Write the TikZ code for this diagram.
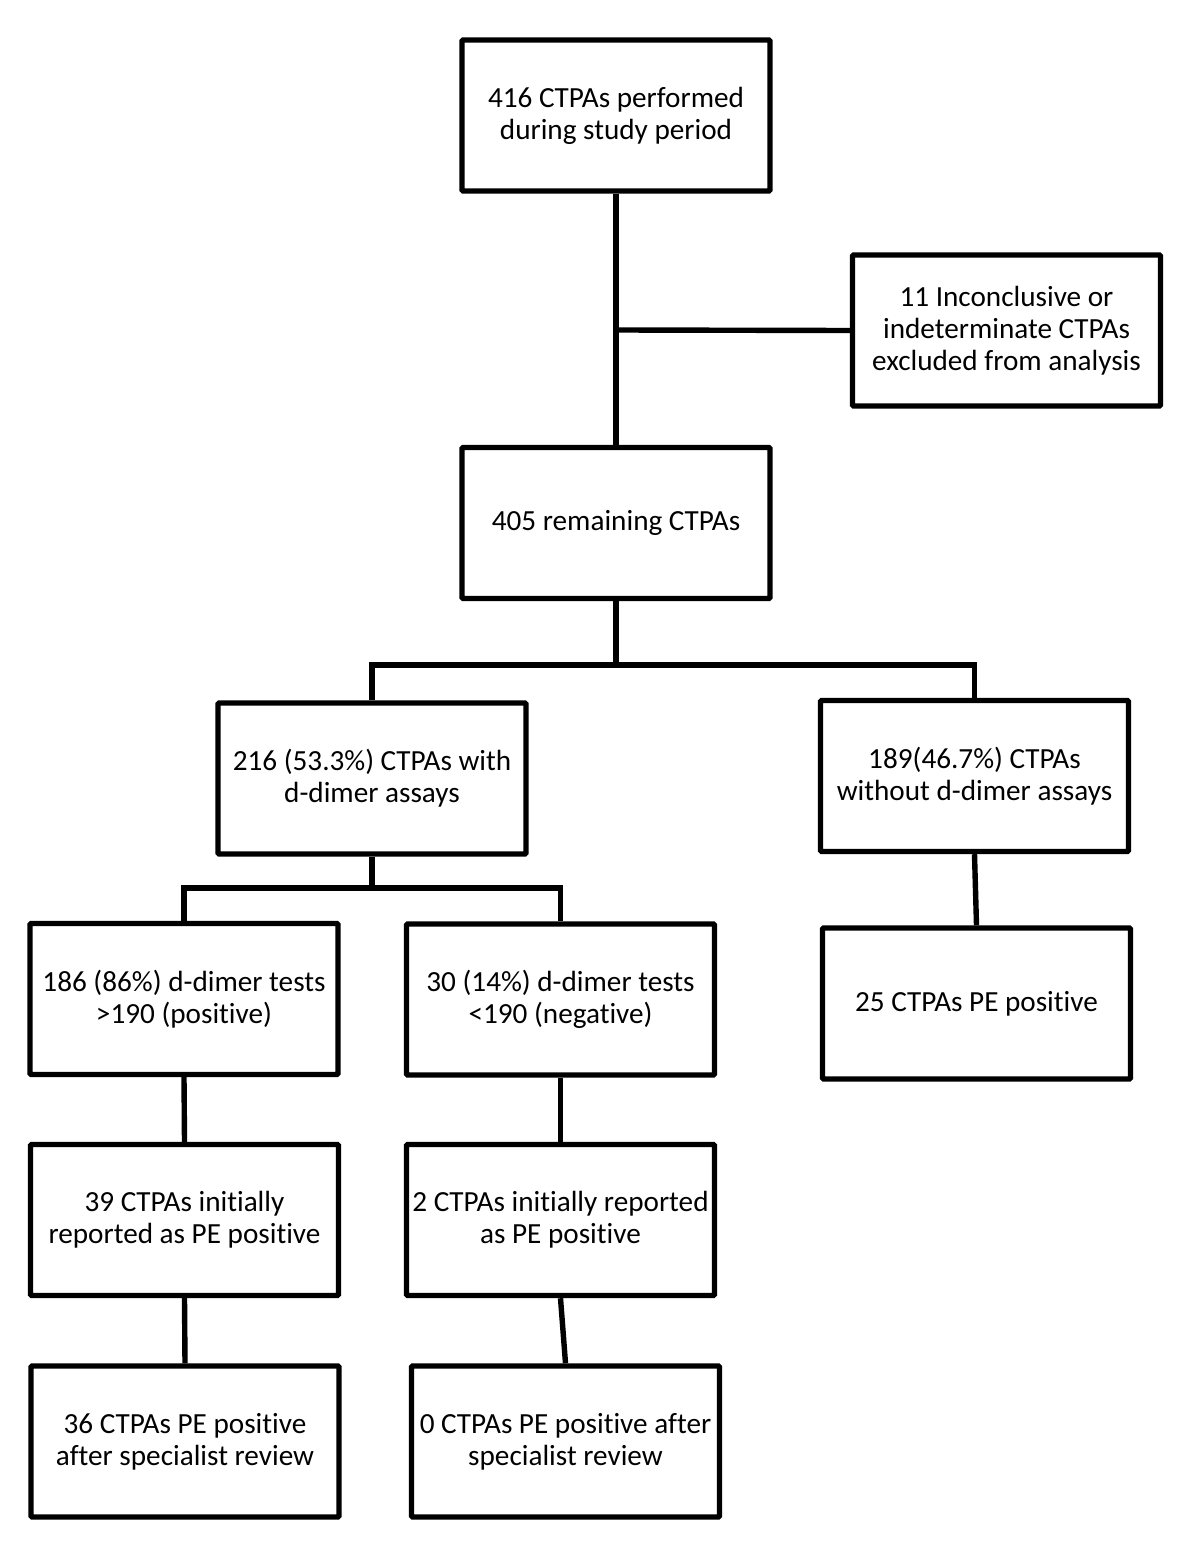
\documentclass[tikz,border=0pt]{standalone}
\usepackage{fontspec}
\setmainfont[Ligatures=NoCommon]{Carlito}
\begin{document}
\begin{tikzpicture}[x=0.5pt,y=-0.5pt,
  box/.style={draw=black,line width=2.7pt,rectangle,minimum width=154pt,minimum height=75.5pt,
    align=center,font=\fontsize{14.6pt}{16pt}\selectfont,inner sep=0pt,rounded corners=0.6pt},
  conn/.style={draw=black,line width=2.7pt}]
\useasboundingbox[fill=white] (0,0) rectangle (1200,1557);
\node[box] (A) at (616,115.5) {416 CTPAs performed\\during study period};
\node[box] (B) at (1006.5,330.5) {11 Inconclusive or\\indeterminate CTPAs\\excluded from analysis};
\node[box] (C) at (616,523) {405 remaining CTPAs};
\node[box] (D) at (372,778.5) {216 (53.3\%) CTPAs with\\d-dimer assays};
\node[box] (E) at (974.5,776) {189(46.7\%) CTPAs\\without d-dimer assays};
\node[box] (F) at (184,999) {186 (86\%) d-dimer tests\\>190 (positive)};
\node[box] (G) at (560.5,999.5) {30 (14\%) d-dimer tests\\<190 (negative)};
\node[box] (H) at (976.5,1003.5) {25 CTPAs PE positive};
\node[box] (I) at (184.5,1220) {39 CTPAs initially\\reported as PE positive};
\node[box] (J) at (560.5,1220) {2 CTPAs initially reported\\as PE positive};
\node[box] (K) at (185,1441.5) {36 CTPAs PE positive\\after specialist review};
\node[box] (L) at (565.5,1441.5) {0 CTPAs PE positive after\\specialist review};
\coordinate (m1) at (616,330);
\coordinate (j1) at (616,665);
\coordinate (j2) at (372,888);
\draw[conn] (A.south) -- (C.north);
\draw[conn] (m1) -- (B.west);
\draw[conn] (C.south) -- (j1);
\draw[conn] (D.north) |- (j1) -| (E.north);
\draw[conn] (D.south) -- (j2);
\draw[conn] (F.north) |- (j2) -| (G.north);
\draw[conn] (E.south) -- (H.north);
\draw[conn] (F.south) -- (I.north);
\draw[conn] (G.south) -- (J.north);
\draw[conn] (I.south) -- (K.north);
\draw[conn] (J.south) -- (L.north);
\end{tikzpicture}
\end{document}
